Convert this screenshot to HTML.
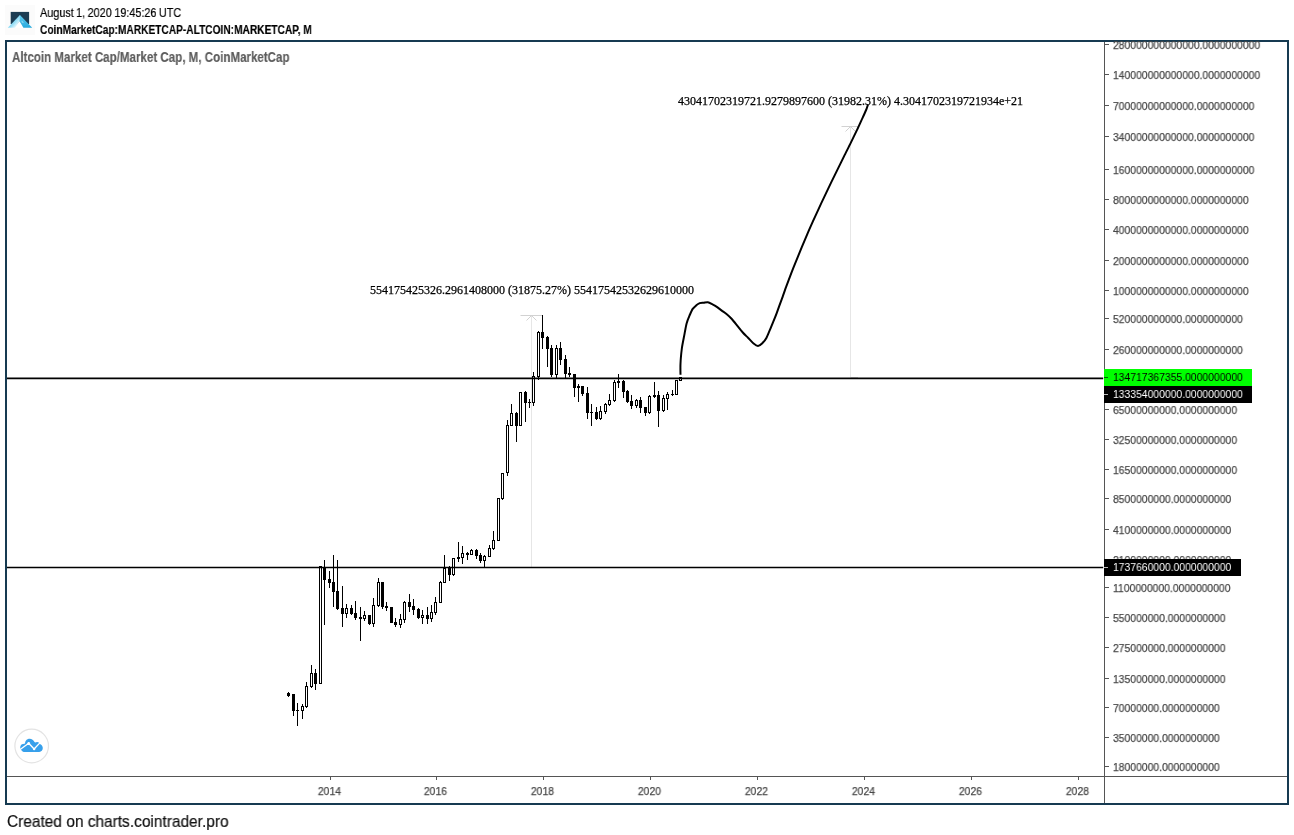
<!DOCTYPE html>
<html><head><meta charset="utf-8"><title>chart</title>
<style>
html,body{margin:0;padding:0;background:#fff;}
body{width:1294px;height:835px;position:relative;overflow:hidden;font-family:"Liberation Sans",sans-serif;}
.abs{position:absolute;}
.t1,.t2,.t3,.foot,.pl,.yl,.lab span,.ser{will-change:transform;}
#frame{position:absolute;left:5px;top:40px;width:1284px;height:765px;box-sizing:border-box;border:2px solid #163a51;}
.t1{-webkit-text-stroke:.2px #000;position:absolute;left:40.3px;top:5px;font-size:13px;line-height:16px;color:#000;white-space:nowrap;word-spacing:-.72px;transform-origin:0 0;transform:scaleX(.835);}
.t2{-webkit-text-stroke:.15px #000;position:absolute;left:40.3px;top:22px;font-size:13px;line-height:16px;font-weight:bold;color:#000;white-space:nowrap;transform-origin:0 0;transform:scaleX(.7819);}
.t3{-webkit-text-stroke:.15px #5c5c5c;position:absolute;left:12.2px;top:50px;font-size:13.8px;line-height:16px;font-weight:bold;color:#5c5c5c;white-space:nowrap;transform-origin:0 0;transform:scaleX(.838);}
.foot{-webkit-text-stroke:.2px #111;position:absolute;left:7px;top:813px;font-size:15.7px;line-height:18px;color:#111;white-space:nowrap;transform-origin:0 0;transform:scaleX(.985);}
.pl{position:absolute;left:1112.6px;height:16px;line-height:16px;font-size:11px;color:#484848;-webkit-text-stroke:.25px #484848;white-space:nowrap;transform-origin:0 50%;transform:scaleX(.943);}
.tick{position:absolute;left:1105px;width:4px;height:1px;background:#555;}
.vt{position:absolute;top:777px;width:1px;height:3px;background:#555;}
.yl{position:absolute;top:783px;width:41px;text-align:center;height:16px;line-height:16px;font-size:11px;color:#484848;-webkit-text-stroke:.25px #484848;transform:scaleX(.943);}
.lab{position:absolute;left:1104px;height:17px;}
.lab span{position:absolute;left:8.8px;top:0;height:17px;line-height:16px;font-size:11px;white-space:nowrap;transform-origin:0 50%;transform:scaleX(.943);}
.lab i{position:absolute;left:0;top:8px;width:4px;height:1px;}
.ser{position:absolute;font-family:"Liberation Serif",serif;font-size:12px;line-height:14px;color:#000;white-space:nowrap;-webkit-text-stroke:.25px #000;}
</style></head><body>
<!-- header -->
<svg class="abs" style="left:0;top:0" width="40" height="40" viewBox="0 0 40 40">
<defs>
<linearGradient id="gl" gradientUnits="userSpaceOnUse" x1="12.5" y1="20" x2="18.6" y2="25.7"><stop offset="0" stop-color="#62cdf1"/><stop offset=".45" stop-color="#a4e2f7"/><stop offset="1" stop-color="#ffffff"/></linearGradient>
<linearGradient id="gr" x1="0" y1="0" x2="0" y2="1"><stop offset="0" stop-color="#63cdf1"/><stop offset="1" stop-color="#27a9dc"/></linearGradient>
</defs>
<rect x="5" y="5" width="30" height="30" fill="#fbfbfb"/>
<rect x="10.7" y="11.9" width="18.4" height="12.2" fill="#1b3c53"/>
<polygon points="19.7,20.5 14.5,27.8 24,27.8" fill="#fff"/>
<polygon points="19.9,14.9 7.8,27.8 15.1,27.8 19.6,21.3 21,18" fill="url(#gl)"/>
<polygon points="19.9,14.9 32.2,27.8 23.4,27.8 19.6,21.3" fill="url(#gr)"/>
<polygon points="21.4,20.6 23.6,22.3 23.2,23 21.9,22.2" fill="#bfeaf8" opacity=".8"/>
</svg>
<div class="t1">August 1, 2020 19:45:26 UTC</div>
<div class="t2">CoinMarketCap:MARKETCAP-ALTCOIN:MARKETCAP, M</div>
<div id="frame"></div>
<div class="t3">Altcoin Market Cap/Market Cap, M, CoinMarketCap</div>

<!-- axes -->
<div class="abs" style="left:1104px;top:42px;width:1px;height:761px;background:#555"></div>
<div class="abs" style="left:7px;top:776px;width:1280px;height:1px;background:#555"></div>
<div class="tick" style="top:44px"></div><div class="pl" style="top:37px">280000000000000.0000000000</div>
<div class="tick" style="top:74px"></div><div class="pl" style="top:67px">140000000000000.0000000000</div>
<div class="tick" style="top:105px"></div><div class="pl" style="top:98px">70000000000000.0000000000</div>
<div class="tick" style="top:136px"></div><div class="pl" style="top:129px">34000000000000.0000000000</div>
<div class="tick" style="top:169px"></div><div class="pl" style="top:162px">16000000000000.0000000000</div>
<div class="tick" style="top:199px"></div><div class="pl" style="top:192px">8000000000000.0000000000</div>
<div class="tick" style="top:229px"></div><div class="pl" style="top:222px">4000000000000.0000000000</div>
<div class="tick" style="top:260px"></div><div class="pl" style="top:253px">2000000000000.0000000000</div>
<div class="tick" style="top:290px"></div><div class="pl" style="top:283px">1000000000000.0000000000</div>
<div class="tick" style="top:318px"></div><div class="pl" style="top:311px">520000000000.0000000000</div>
<div class="tick" style="top:349px"></div><div class="pl" style="top:342px">260000000000.0000000000</div>
<div class="tick" style="top:409px"></div><div class="pl" style="top:402px">65000000000.0000000000</div>
<div class="tick" style="top:439px"></div><div class="pl" style="top:432px">32500000000.0000000000</div>
<div class="tick" style="top:469px"></div><div class="pl" style="top:462px">16500000000.0000000000</div>
<div class="tick" style="top:498px"></div><div class="pl" style="top:491px">8500000000.0000000000</div>
<div class="tick" style="top:529px"></div><div class="pl" style="top:522px">4100000000.0000000000</div>
<div class="tick" style="top:559px"></div><div class="pl" style="top:552px">2100000000.0000000000</div>
<div class="tick" style="top:587px"></div><div class="pl" style="top:580px">1100000000.0000000000</div>
<div class="tick" style="top:617px"></div><div class="pl" style="top:610px">550000000.0000000000</div>
<div class="tick" style="top:647px"></div><div class="pl" style="top:640px">275000000.0000000000</div>
<div class="tick" style="top:678px"></div><div class="pl" style="top:671px">135000000.0000000000</div>
<div class="tick" style="top:707px"></div><div class="pl" style="top:700px">70000000.0000000000</div>
<div class="tick" style="top:737px"></div><div class="pl" style="top:730px">35000000.0000000000</div>
<div class="tick" style="top:766px"></div><div class="pl" style="top:759px">18000000.0000000000</div>
<div class="vt" style="left:330px"></div><div class="yl" style="left:309.2px">2014</div>
<div class="vt" style="left:436px"></div><div class="yl" style="left:415.2px">2016</div>
<div class="vt" style="left:543px"></div><div class="yl" style="left:522.2px">2018</div>
<div class="vt" style="left:650px"></div><div class="yl" style="left:629.2px">2020</div>
<div class="vt" style="left:757px"></div><div class="yl" style="left:736.2px">2022</div>
<div class="vt" style="left:864px"></div><div class="yl" style="left:843.2px">2024</div>
<div class="vt" style="left:971px"></div><div class="yl" style="left:950.2px">2026</div>
<div class="vt" style="left:1078px"></div><div class="yl" style="left:1057.2px">2028</div>

<!-- chart -->
<svg class="abs" style="left:0;top:0" width="1294" height="835" viewBox="0 0 1294 835">
<g fill="none" stroke="#e6e6e6" stroke-width="1">
<path d="M531.5,315.5V567"/>
<path d="M850.5,126.5V377.5"/>
</g>
<g fill="none" stroke="#d2d2d2" stroke-width="1">
<path d="M520.5,315.5H542.5 M526.5,320.5L531.5,315.5L536.5,320.5"/>
<path d="M841.5,126.5H858 M845.5,131.5L850.5,126.5L855.5,131.5 M850.5,377.5H858"/>
</g>
<g fill="#000" shape-rendering="crispEdges">
<rect x="288" y="692" width="1" height="5"/>
<rect x="287" y="693" width="3" height="3"/>
<rect x="293" y="694" width="1" height="22"/>
<rect x="292" y="694" width="3" height="17"/>
<rect x="297" y="703" width="1" height="23"/>
<rect x="296" y="710" width="3" height="1"/>
<rect x="302" y="704" width="1" height="15"/>
<rect x="301" y="706" width="3" height="5"/>
<rect x="302" y="707" width="1" height="3" fill="#fff"/>
<rect x="306" y="682" width="1" height="26"/>
<rect x="305" y="686" width="3" height="21"/>
<rect x="306" y="687" width="1" height="19" fill="#fff"/>
<rect x="311" y="665" width="1" height="23"/>
<rect x="310" y="673" width="3" height="14"/>
<rect x="311" y="674" width="1" height="12" fill="#fff"/>
<rect x="315" y="669" width="1" height="21"/>
<rect x="314" y="673" width="3" height="11"/>
<rect x="320" y="566" width="1" height="118"/>
<rect x="319" y="566" width="3" height="118"/>
<rect x="320" y="567" width="1" height="116" fill="#fff"/>
<rect x="324" y="560" width="1" height="65"/>
<rect x="323" y="567" width="3" height="13"/>
<rect x="329" y="571" width="1" height="17"/>
<rect x="328" y="579" width="3" height="4"/>
<rect x="333" y="555" width="1" height="52"/>
<rect x="332" y="582" width="3" height="10"/>
<rect x="337" y="560" width="1" height="50"/>
<rect x="336" y="591" width="3" height="18"/>
<rect x="342" y="586" width="1" height="41"/>
<rect x="341" y="608" width="3" height="6"/>
<rect x="346" y="604" width="1" height="14"/>
<rect x="345" y="608" width="3" height="6"/>
<rect x="346" y="609" width="1" height="4" fill="#fff"/>
<rect x="351" y="605" width="1" height="10"/>
<rect x="350" y="608" width="3" height="6"/>
<rect x="355" y="601" width="1" height="19"/>
<rect x="354" y="613" width="3" height="5"/>
<rect x="360" y="607" width="1" height="34"/>
<rect x="359" y="617" width="3" height="2"/>
<rect x="364" y="611" width="1" height="10"/>
<rect x="363" y="615" width="3" height="4"/>
<rect x="364" y="616" width="1" height="2" fill="#fff"/>
<rect x="369" y="615" width="1" height="10"/>
<rect x="368" y="615" width="3" height="9"/>
<rect x="373" y="598" width="1" height="29"/>
<rect x="372" y="605" width="3" height="19"/>
<rect x="373" y="606" width="1" height="17" fill="#fff"/>
<rect x="378" y="578" width="1" height="29"/>
<rect x="377" y="582" width="3" height="24"/>
<rect x="378" y="583" width="1" height="22" fill="#fff"/>
<rect x="382" y="582" width="1" height="27"/>
<rect x="381" y="582" width="3" height="25"/>
<rect x="386" y="602" width="1" height="9"/>
<rect x="385" y="606" width="3" height="2"/>
<rect x="391" y="607" width="1" height="16"/>
<rect x="390" y="607" width="3" height="16"/>
<rect x="395" y="618" width="1" height="9"/>
<rect x="394" y="622" width="3" height="3"/>
<rect x="400" y="614" width="1" height="14"/>
<rect x="399" y="619" width="3" height="6"/>
<rect x="400" y="620" width="1" height="4" fill="#fff"/>
<rect x="404" y="601" width="1" height="22"/>
<rect x="403" y="602" width="3" height="18"/>
<rect x="404" y="603" width="1" height="16" fill="#fff"/>
<rect x="409" y="594" width="1" height="18"/>
<rect x="408" y="602" width="3" height="5"/>
<rect x="413" y="599" width="1" height="16"/>
<rect x="412" y="606" width="3" height="4"/>
<rect x="418" y="608" width="1" height="11"/>
<rect x="417" y="609" width="3" height="9"/>
<rect x="422" y="610" width="1" height="14"/>
<rect x="421" y="615" width="3" height="3"/>
<rect x="422" y="616" width="1" height="1" fill="#fff"/>
<rect x="427" y="607" width="1" height="17"/>
<rect x="426" y="615" width="3" height="4"/>
<rect x="431" y="605" width="1" height="17"/>
<rect x="430" y="612" width="3" height="7"/>
<rect x="431" y="613" width="1" height="5" fill="#fff"/>
<rect x="435" y="597" width="1" height="18"/>
<rect x="434" y="602" width="3" height="11"/>
<rect x="435" y="603" width="1" height="9" fill="#fff"/>
<rect x="440" y="581" width="1" height="22"/>
<rect x="439" y="582" width="3" height="21"/>
<rect x="440" y="583" width="1" height="19" fill="#fff"/>
<rect x="444" y="555" width="1" height="28"/>
<rect x="443" y="568" width="3" height="15"/>
<rect x="444" y="569" width="1" height="13" fill="#fff"/>
<rect x="449" y="566" width="1" height="15"/>
<rect x="448" y="568" width="3" height="7"/>
<rect x="453" y="558" width="1" height="18"/>
<rect x="452" y="558" width="3" height="17"/>
<rect x="453" y="559" width="1" height="15" fill="#fff"/>
<rect x="458" y="542" width="1" height="20"/>
<rect x="457" y="557" width="3" height="2"/>
<rect x="462" y="546" width="1" height="18"/>
<rect x="461" y="553" width="3" height="5"/>
<rect x="462" y="554" width="1" height="3" fill="#fff"/>
<rect x="467" y="552" width="1" height="8"/>
<rect x="466" y="553" width="3" height="2"/>
<rect x="471" y="549" width="1" height="6"/>
<rect x="470" y="550" width="3" height="5"/>
<rect x="471" y="551" width="1" height="3" fill="#fff"/>
<rect x="476" y="549" width="1" height="10"/>
<rect x="475" y="550" width="3" height="6"/>
<rect x="480" y="553" width="1" height="10"/>
<rect x="479" y="555" width="3" height="6"/>
<rect x="484" y="555" width="1" height="12"/>
<rect x="483" y="556" width="3" height="5"/>
<rect x="484" y="557" width="1" height="3" fill="#fff"/>
<rect x="489" y="545" width="1" height="12"/>
<rect x="488" y="548" width="3" height="9"/>
<rect x="489" y="549" width="1" height="7" fill="#fff"/>
<rect x="493" y="531" width="1" height="19"/>
<rect x="492" y="540" width="3" height="9"/>
<rect x="493" y="541" width="1" height="7" fill="#fff"/>
<rect x="498" y="498" width="1" height="43"/>
<rect x="497" y="498" width="3" height="43"/>
<rect x="498" y="499" width="1" height="41" fill="#fff"/>
<rect x="502" y="473" width="1" height="27"/>
<rect x="501" y="473" width="3" height="26"/>
<rect x="502" y="474" width="1" height="24" fill="#fff"/>
<rect x="507" y="420" width="1" height="56"/>
<rect x="506" y="425" width="3" height="48"/>
<rect x="507" y="426" width="1" height="46" fill="#fff"/>
<rect x="511" y="404" width="1" height="22"/>
<rect x="510" y="413" width="3" height="13"/>
<rect x="511" y="414" width="1" height="11" fill="#fff"/>
<rect x="516" y="412" width="1" height="30"/>
<rect x="515" y="413" width="3" height="13"/>
<rect x="520" y="392" width="1" height="34"/>
<rect x="519" y="392" width="3" height="34"/>
<rect x="520" y="393" width="1" height="32" fill="#fff"/>
<rect x="525" y="391" width="1" height="31"/>
<rect x="524" y="392" width="3" height="11"/>
<rect x="529" y="399" width="1" height="9"/>
<rect x="528" y="402" width="3" height="1"/>
<rect x="533" y="372" width="1" height="34"/>
<rect x="532" y="376" width="3" height="27"/>
<rect x="533" y="377" width="1" height="25" fill="#fff"/>
<rect x="538" y="331" width="1" height="49"/>
<rect x="537" y="332" width="3" height="45"/>
<rect x="538" y="333" width="1" height="43" fill="#fff"/>
<rect x="542" y="315" width="1" height="34"/>
<rect x="541" y="332" width="3" height="6"/>
<rect x="547" y="336" width="1" height="31"/>
<rect x="546" y="337" width="3" height="12"/>
<rect x="551" y="345" width="1" height="32"/>
<rect x="550" y="348" width="3" height="27"/>
<rect x="556" y="345" width="1" height="33"/>
<rect x="555" y="348" width="3" height="27"/>
<rect x="556" y="349" width="1" height="25" fill="#fff"/>
<rect x="560" y="342" width="1" height="23"/>
<rect x="559" y="348" width="3" height="12"/>
<rect x="565" y="355" width="1" height="23"/>
<rect x="564" y="359" width="3" height="15"/>
<rect x="569" y="367" width="1" height="10"/>
<rect x="568" y="373" width="3" height="2"/>
<rect x="574" y="374" width="1" height="23"/>
<rect x="573" y="374" width="3" height="14"/>
<rect x="578" y="384" width="1" height="18"/>
<rect x="577" y="386" width="3" height="2"/>
<rect x="582" y="386" width="1" height="10"/>
<rect x="581" y="386" width="3" height="8"/>
<rect x="587" y="387" width="1" height="32"/>
<rect x="586" y="393" width="3" height="20"/>
<rect x="591" y="404" width="1" height="22"/>
<rect x="590" y="412" width="3" height="1"/>
<rect x="596" y="407" width="1" height="13"/>
<rect x="595" y="412" width="3" height="7"/>
<rect x="600" y="406" width="1" height="14"/>
<rect x="599" y="411" width="3" height="8"/>
<rect x="600" y="412" width="1" height="6" fill="#fff"/>
<rect x="605" y="403" width="1" height="11"/>
<rect x="604" y="404" width="3" height="8"/>
<rect x="605" y="405" width="1" height="6" fill="#fff"/>
<rect x="609" y="394" width="1" height="12"/>
<rect x="608" y="400" width="3" height="5"/>
<rect x="609" y="401" width="1" height="3" fill="#fff"/>
<rect x="614" y="380" width="1" height="22"/>
<rect x="613" y="382" width="3" height="19"/>
<rect x="614" y="383" width="1" height="17" fill="#fff"/>
<rect x="618" y="374" width="1" height="14"/>
<rect x="617" y="381" width="3" height="2"/>
<rect x="623" y="380" width="1" height="18"/>
<rect x="622" y="381" width="3" height="11"/>
<rect x="627" y="390" width="1" height="13"/>
<rect x="626" y="391" width="3" height="11"/>
<rect x="631" y="395" width="1" height="14"/>
<rect x="630" y="401" width="3" height="5"/>
<rect x="636" y="399" width="1" height="9"/>
<rect x="635" y="400" width="3" height="6"/>
<rect x="636" y="401" width="1" height="4" fill="#fff"/>
<rect x="640" y="397" width="1" height="16"/>
<rect x="639" y="400" width="3" height="8"/>
<rect x="645" y="407" width="1" height="9"/>
<rect x="644" y="407" width="3" height="6"/>
<rect x="649" y="395" width="1" height="19"/>
<rect x="648" y="396" width="3" height="17"/>
<rect x="649" y="397" width="1" height="15" fill="#fff"/>
<rect x="654" y="382" width="1" height="16"/>
<rect x="653" y="395" width="3" height="2"/>
<rect x="658" y="391" width="1" height="36"/>
<rect x="657" y="395" width="3" height="16"/>
<rect x="663" y="395" width="1" height="17"/>
<rect x="662" y="398" width="3" height="13"/>
<rect x="663" y="399" width="1" height="11" fill="#fff"/>
<rect x="667" y="392" width="1" height="18"/>
<rect x="666" y="394" width="3" height="5"/>
<rect x="667" y="395" width="1" height="3" fill="#fff"/>
<rect x="672" y="390" width="1" height="6"/>
<rect x="671" y="394" width="3" height="1"/>
<rect x="676" y="380" width="1" height="15"/>
<rect x="675" y="380" width="3" height="15"/>
<rect x="676" y="381" width="1" height="13" fill="#fff"/>
<rect x="680" y="377" width="1" height="4"/>
<rect x="679" y="377" width="3" height="4"/>
<rect x="680" y="378" width="1" height="2" fill="#fff"/>
</g>
<line x1="7" y1="378.4" x2="1103.2" y2="378.4" stroke="#000" stroke-width="1.6"/>
<line x1="7" y1="567.45" x2="1103.2" y2="567.45" stroke="#000" stroke-width="1.6"/>
<path d="M680.5,374.8 C680.5,373.6 680.3,366.7 680.5,363.7 C680.6,360.7 681.5,351.2 681.9,348.0 C682.3,344.8 683.9,337.3 684.4,334.6 C684.9,331.9 686.0,325.5 686.6,323.4 C687.2,321.3 688.7,317.5 689.4,315.9 C690.1,314.3 691.7,310.3 692.5,309.1 C693.3,307.9 695.5,306.0 696.3,305.3 C697.1,304.6 698.9,303.4 699.7,303.1 C700.5,302.8 702.9,302.9 703.8,302.8 C704.7,302.7 706.8,302.1 707.8,302.3 C708.8,302.5 711.5,303.9 712.5,304.4 C713.5,304.9 715.8,306.2 716.8,306.9 C717.8,307.6 720.7,309.8 721.8,310.6 C722.9,311.4 725.7,313.3 726.8,314.2 C727.9,315.1 730.6,317.7 731.8,319.0 C733.0,320.3 736.2,324.4 737.4,325.9 C738.6,327.4 741.8,331.4 743.0,332.7 C744.2,334.0 746.8,336.5 748.0,337.7 C749.2,338.9 752.5,342.7 753.6,343.6 C754.7,344.5 757.0,346.0 758.0,346.0 C759.0,346.0 761.4,344.2 762.3,343.3 C763.2,342.4 765.6,339.5 766.4,338.0 C767.2,336.5 769.1,331.7 769.9,329.9 C770.7,328.1 772.4,323.7 773.2,321.8 C774.0,319.9 775.9,315.3 776.8,312.8 C777.7,310.3 780.6,302.3 781.7,299.4 C782.8,296.5 785.2,289.3 786.3,286.4 C787.4,283.5 790.1,276.3 791.2,273.4 C792.3,270.5 795.2,263.3 796.4,260.4 C797.6,257.5 800.5,250.3 801.7,247.4 C802.9,244.5 806.0,237.3 807.2,234.4 C808.4,231.5 811.6,224.3 812.9,221.4 C814.2,218.5 817.6,211.3 818.9,208.4 C820.2,205.5 823.6,198.3 825.0,195.4 C826.4,192.5 829.8,185.3 831.2,182.4 C832.6,179.5 836.2,172.3 837.6,169.4 C839.0,166.5 842.6,159.3 844.0,156.4 C845.4,153.5 849.1,146.3 850.5,143.4 C851.9,140.5 855.4,133.3 856.8,130.4 C858.2,127.5 861.7,119.7 862.8,117.4 C863.9,115.1 865.7,110.9 866.3,109.5 C866.9,108.1 867.8,105.0 868.0,104.4" fill="none" stroke="#000" stroke-width="2" stroke-linecap="butt" stroke-linejoin="round"/>
</svg>

<div class="ser" style="left:370.3px;top:283px">554175425326.2961408000 (31875.27%) 55417542532629610000</div>
<div class="ser" style="left:678.2px;top:94px">43041702319721.9279897600 (31982.31%) 4.3041702319721934e+21</div>

<!-- price labels -->
<div class="lab" style="top:369px;width:148px;background:#00ff00"><i style="background:#006400"></i><span style="color:#000">134717367355.0000000000</span></div>
<div class="lab" style="top:386px;width:148px;background:#000"><i style="background:#bbb"></i><span style="color:#fff">133354000000.0000000000</span></div>
<div class="lab" style="top:559px;width:137px;background:#000"><i style="background:#bbb"></i><span style="color:#fff">1737660000.0000000000</span></div>

<!-- tv logo -->
<svg class="abs" style="left:10px;top:724px" width="44" height="44" viewBox="10 724 44 44">
<circle cx="31.7" cy="746" r="16.8" fill="#fff" stroke="#e3e3e3" stroke-width="1.2"/>
<path d="M24.6,751.9 C23.4,751.9 22.6,751.5 22.2,750.9 L20.6,749.6 C20.3,748.8 20.2,748.3 20.2,747.7 C20.2,745.5 21.4,743.9 23.1,743.9 C23.9,743.9 24.6,743.8 25.1,743.5 C24.9,740.9 26.9,738.7 29.6,738.7 C31.8,738.7 33.6,740.1 34.5,742.1 C34.8,742.4 35,742.5 35.2,742.6 C35.8,742.3 36.4,742.1 37.1,742.1 C38.4,742.1 39.4,742.9 39.7,744.1 C41.5,744.5 42.8,746.2 42.8,748.1 C42.8,750.2 41.3,751.9 39.3,751.9 Z" fill="#37a0eb"/>
<path d="M20.5,749.3 L28.7,743.2 L34.1,749 L39.4,743.4" fill="none" stroke="#fff" stroke-width="1.35" stroke-linejoin="round" stroke-linecap="round"/>
<circle cx="28.7" cy="743.2" r="1.3" fill="#fff"/><circle cx="34.1" cy="749" r="1.25" fill="#fff"/>
</svg>
<div class="foot">Created on charts.cointrader.pro</div>
</body></html>
